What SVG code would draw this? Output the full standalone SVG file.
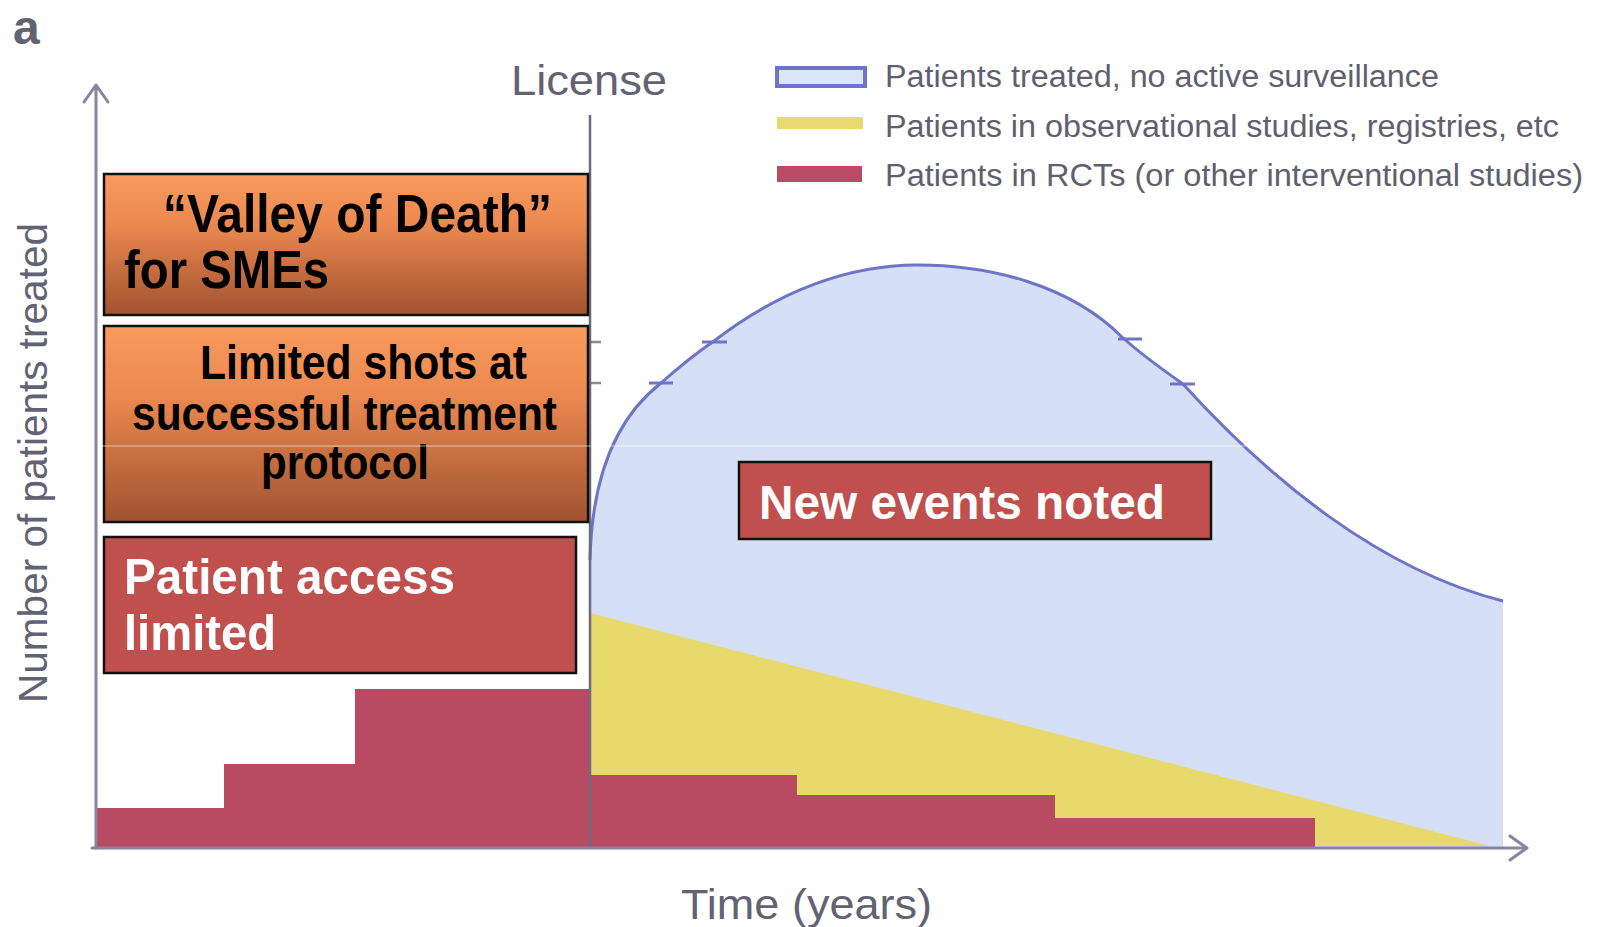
<svg xmlns="http://www.w3.org/2000/svg" width="1598" height="927" viewBox="0 0 1598 927">
<defs>
<linearGradient id="orange" x1="0" y1="0" x2="0" y2="1">
<stop offset="0" stop-color="#F99A5D"/>
<stop offset="0.35" stop-color="#EC8950"/>
<stop offset="1" stop-color="#A0532F"/>
</linearGradient>
</defs>
<style>
.lbl{font-family:"Liberation Sans",Arial,sans-serif;fill:#626272}
.leg{font-family:"Liberation Sans",Arial,sans-serif;font-size:31px;fill:#5f5f70}
.bx{font-family:"Liberation Sans Narrow","Liberation Sans",Arial,sans-serif;font-weight:bold}
.obox{fill:url(#orange);stroke:#111;stroke-width:2.5}
.rbox{fill:#C0504D;stroke:#111;stroke-width:2.5}
.red{fill:#B84A62}
.ax{stroke:#85859c;stroke-width:3;fill:none;stroke-linecap:round;stroke-linejoin:round}
.tick{stroke:#6E74C6;stroke-width:3;fill:none}
</style>
<rect width="1598" height="927" fill="#ffffff"/>

<g id="chart">
<path d="M590,848 L590,560 C592,470 620,415 661,383 C678,368 695,354 714,341 C780,290 850,265 917,265 C990,265 1070,285 1122,337 C1143,356 1163,370 1183,384 C1270,480 1380,570 1503,601 L1503,848 Z" fill="#D5E0F6"/>
<path d="M590,560 C592,470 620,415 661,383 C678,368 695,354 714,341 C780,290 850,265 917,265 C990,265 1070,285 1122,337 C1143,356 1163,370 1183,384 C1270,480 1380,570 1503,601" fill="none" stroke="#6E74C6" stroke-width="3"/>
<path class="tick" d="M649,383 H673 M702,342 H727 M1118,339 H1142 M1170,384 H1195"/>
<path d="M588,342 H601 M588,383 H601" stroke="#8a8a9c" stroke-width="2.5"/>
<polygon points="590,613 1490,846 590,846" fill="#E8D96C"/>
<path class="red" d="M97,848 V808 H224 V764 H355 V689 H590 V775 H797 V795 H1055 V818 H1315 V848 Z"/>
<line x1="590" y1="115" x2="590" y2="848" stroke="#6a6a80" stroke-width="2.5"/>
</g>

<g id="connectors">
<path class="ax" d="M96,848 V85 M84,102 L96,85 L108,102"/>
<path class="ax" d="M92,848 H1527 M1510,836 L1527,848 L1510,860"/>
</g>

<g id="labels">
<text class="lbl" x="13" y="44" font-size="48" font-weight="bold" fill="#505058">a</text>
<text class="lbl" x="511" y="95" font-size="43" textLength="156" lengthAdjust="spacingAndGlyphs">License</text>
<text class="lbl" x="681" y="919" font-size="42" textLength="251" lengthAdjust="spacingAndGlyphs">Time (years)</text>
<text class="lbl" transform="translate(47,463) rotate(-90)" text-anchor="middle" font-size="41" textLength="480" lengthAdjust="spacingAndGlyphs">Number of patients treated</text>
</g>

<g id="legend">
<rect x="777" y="68" width="88" height="18" fill="#DCE6FA" stroke="#6E74C6" stroke-width="4"/>
<rect x="777" y="117" width="86" height="12" fill="#E8DA6E"/>
<rect x="777" y="166" width="85" height="16" fill="#BB4A64"/>
<text class="leg" x="885" y="87" textLength="554" lengthAdjust="spacingAndGlyphs">Patients treated, no active surveillance</text>
<text class="leg" x="885" y="137" textLength="674" lengthAdjust="spacingAndGlyphs">Patients in observational studies, registries, etc</text>
<text class="leg" x="885" y="186" textLength="698" lengthAdjust="spacingAndGlyphs">Patients in RCTs (or other interventional studies)</text>
</g>

<g id="box-valley">
<rect class="obox" x="104" y="174" width="484" height="141"/>
<text class="bx" x="163" y="232" font-size="54" fill="#000" textLength="389" lengthAdjust="spacingAndGlyphs">“Valley of Death”</text>
<text class="bx" x="124" y="288" font-size="54" fill="#000" textLength="205" lengthAdjust="spacingAndGlyphs">for SMEs</text>
</g>

<g id="box-shots">
<rect class="obox" x="104" y="326" width="484" height="196"/>
<text class="bx" x="200" y="379" font-size="48" fill="#000" textLength="327" lengthAdjust="spacingAndGlyphs">Limited shots at</text>
<text class="bx" x="132" y="430" font-size="48" fill="#000" textLength="425" lengthAdjust="spacingAndGlyphs">successful treatment</text>
<text class="bx" x="261" y="479" font-size="48" fill="#000" textLength="168" lengthAdjust="spacingAndGlyphs">protocol</text>
</g>

<g id="box-access">
<rect class="rbox" x="104" y="537" width="472" height="136"/>
<text class="bx" x="124" y="594" font-size="50" fill="#fff" textLength="331" lengthAdjust="spacingAndGlyphs">Patient access</text>
<text class="bx" x="124" y="650" font-size="50" fill="#fff" textLength="152" lengthAdjust="spacingAndGlyphs">limited</text>
</g>

<g id="box-events">
<rect class="rbox" x="739" y="462" width="472" height="77"/>
<text class="bx" x="759" y="519" font-size="48" fill="#fff" textLength="406" lengthAdjust="spacingAndGlyphs">New events noted</text>
</g>

<line x1="100" y1="446" x2="1560" y2="446" stroke="#ffffff" stroke-width="1" opacity="0.6"/>
</svg>
